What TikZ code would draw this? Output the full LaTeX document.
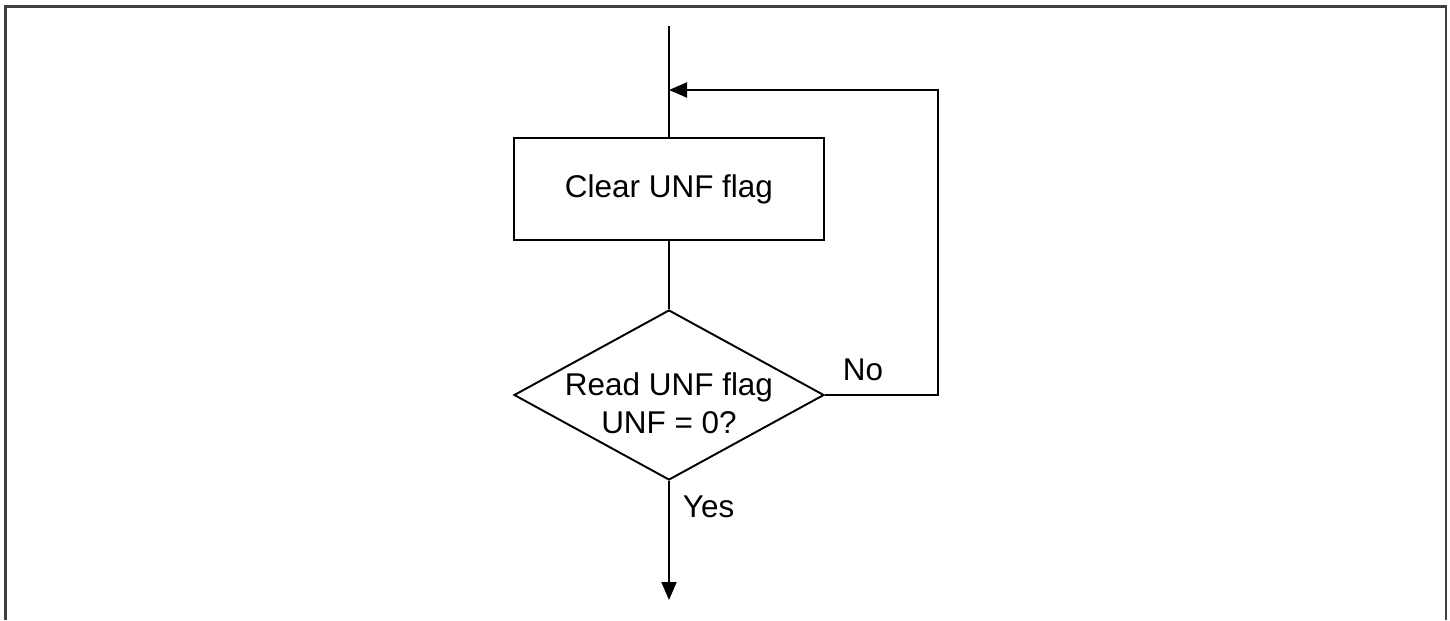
\documentclass[tikz,border=0pt]{standalone}
\usepackage{fontspec}
\setmainfont{Liberation Sans}
\usetikzlibrary{arrows.meta,calc,positioning,shapes.geometric}

\begin{document}
\begin{tikzpicture}[line width=1.1pt,
    proc/.style={rectangle, draw, minimum width=6.2cm, minimum height=2.04cm,
                 inner sep=0pt, font=\fontsize{17.9}{21.8}\selectfont},
    dec/.style={diamond, draw, inner sep=0pt, minimum width=6.2cm,
                minimum height=3.4cm},
    lbl/.style={font=\fontsize{17.9}{21.8}\selectfont, inner sep=0pt, align=center},
    tip/.style={-{Triangle[length=0.36cm, width=0.3cm]}}]
\useasboundingbox (0,0) rectangle (29,12.4);
% frame
\draw[black!75, line width=1.4pt] (0.11,0) -- (0.11,12.27) -- (28.92,12.27) -- (28.92,0);
% flow
\coordinate (start) at (13.38,11.88);
\node[proc] (clr) at (13.38,8.62) {Clear UNF flag};
\node[dec]  (rd)  at (13.38,4.5)  {};
\node[lbl]  (rdtxt) at ($(rd)+(0,-0.17)$) {Read UNF flag\\UNF = 0?};
\coordinate (stop) at (13.38,0.4);
\coordinate (loop) at (13.38,10.6);
\draw (start) -- (clr.north);
\draw (clr.south) -- (rd.north);
\draw[tip] (rd.south) -- (stop);
\draw[tip] (rd.east) -- (rd.east -| 18.76,0) |- (loop);
\node[lbl, anchor=base west] (no)  at ($(rd.east)+(0.34,0.3)$)    {No};
\node[lbl, anchor=base west] (yes) at ($(rd.south)+(0.26,-0.74)$) {Yes};
\end{tikzpicture}
\end{document}
